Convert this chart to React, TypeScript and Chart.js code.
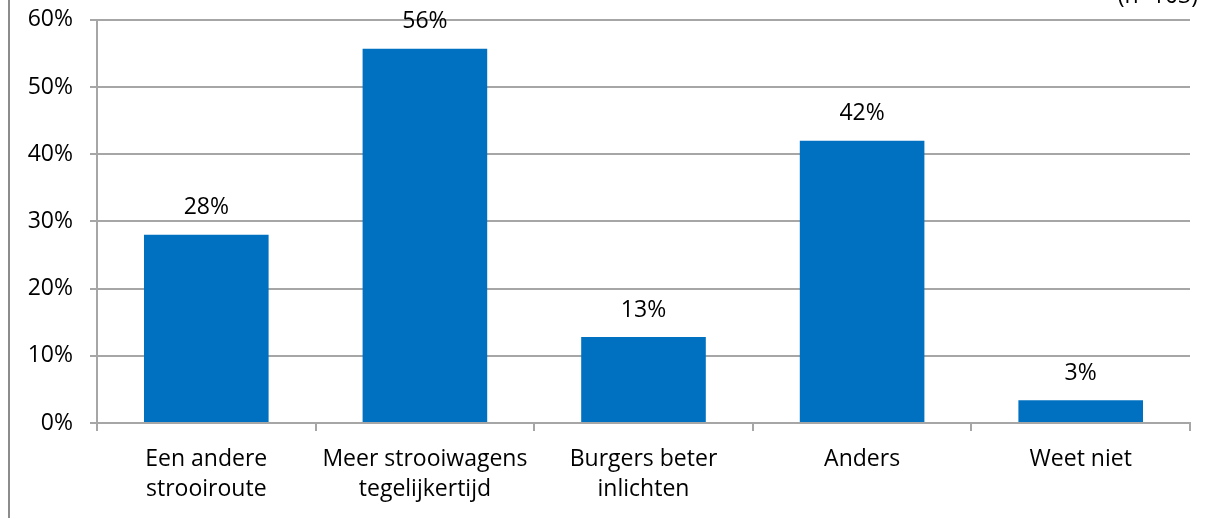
import React, { useEffect, useRef } from "react";
import { Chart, registerables } from "chart.js";

Chart.register(...registerables);

const categories: string[][] = [
  ["Een andere", "strooiroute"],
  ["Meer strooiwagens", "tegelijkertijd"],
  ["Burgers beter", "inlichten"],
  ["Anders"],
  ["Weet niet"],
];
const values: number[] = [28, 55.7, 12.8, 42, 3.4];
const valueLabels: string[] = ["28%", "56%", "13%", "42%", "3%"];
const yTicks: number[] = [0, 10, 20, 30, 40, 50, 60];
const noteText = "(n=103)";

const FONT = "'Open Sans', Lato, sans-serif";
const FS = 23;
const GRID = "#a6a6a6";
const SHIFT = 11;

export default function App() {
  const ref = useRef<HTMLCanvasElement | null>(null);
  useEffect(() => {
    if (!ref.current) return;
    const labelPlugin = {
      id: "vlabels",
      afterDatasetsDraw(chart: any) {
        const ctx = chart.ctx;
        const meta = chart.getDatasetMeta(0);
        ctx.save();
        ctx.font = `${FS}px ${FONT}`;
        ctx.fillStyle = "#000";
        ctx.textAlign = "center";
        ctx.textBaseline = "middle";
        meta.data.forEach((el: any, i: number) => {
          ctx.fillText(valueLabels[i], el.x, el.y - 27);
        });
        ctx.restore();
      },
      afterDraw(chart: any) {
        const ctx = chart.ctx;
        ctx.save();
        ctx.font = `${FS}px ${FONT}`;
        ctx.fillStyle = "#000";
        ctx.textAlign = "right";
        ctx.textBaseline = "alphabetic";
        ctx.fillText(noteText, 1198, SHIFT + 3);
        ctx.strokeStyle = "#8c8c8c";
        ctx.lineWidth = 2;
        ctx.beginPath();
        ctx.moveTo(9, 0);
        ctx.lineTo(9, 518 + SHIFT);
        ctx.stroke();
        ctx.restore();
      },
    };
    const chart = new Chart(ref.current, {
      type: "bar",
      data: {
        labels: categories,
        datasets: [
          {
            data: values,
            backgroundColor: "#0070C0",
            categoryPercentage: 0.57,
            barPercentage: 1,
          },
        ],
      },
      options: {
        animation: false,
        responsive: true,
        maintainAspectRatio: false,
        layout: { padding: { top: 0, right: 20, left: 0, bottom: 0 } },
        plugins: { legend: { display: false }, tooltip: { enabled: false } },
        scales: {
          x: {
            grid: {
              offset: true,
              drawOnChartArea: false,
              drawTicks: true,
              tickLength: 8,
              color: GRID,
              lineWidth: 2,
            },
            border: { color: GRID, width: 2 },
            ticks: {
              color: "#000",
              font: { family: FONT, size: FS, lineHeight: 1.33 },
              padding: 13,
              maxRotation: 0,
              autoSkip: false,
            },
            afterFit(scale: any) {
              scale.height = 95;
            },
          },
          y: {
            min: 0,
            max: 60,
            afterBuildTicks(scale: any) {
              scale.ticks = yTicks.map((v) => ({ value: v }));
            },
            grid: {
              color: GRID,
              lineWidth: 2,
              tickLength: 7,
            },
            border: { color: GRID, width: 2 },
            ticks: {
              color: "#000",
              font: { family: FONT, size: FS },
              padding: 17,
              callback: (v: any) => `${v}%`,
            },
            afterFit(scale: any) {
              scale.width = 97;
            },
          },
        },
      },
      plugins: [labelPlugin],
    });
    return () => chart.destroy();
  }, []);
  return (
    <div style={{ position: "fixed", left: 0, top: 0, width: 1210, height: 518, overflow: "hidden", background: "#fff" }}>
      <div style={{ position: "absolute", left: 0, top: -SHIFT, width: 1210, height: 518 + SHIFT }}>
        <canvas ref={ref} />
      </div>
    </div>
  );
}
